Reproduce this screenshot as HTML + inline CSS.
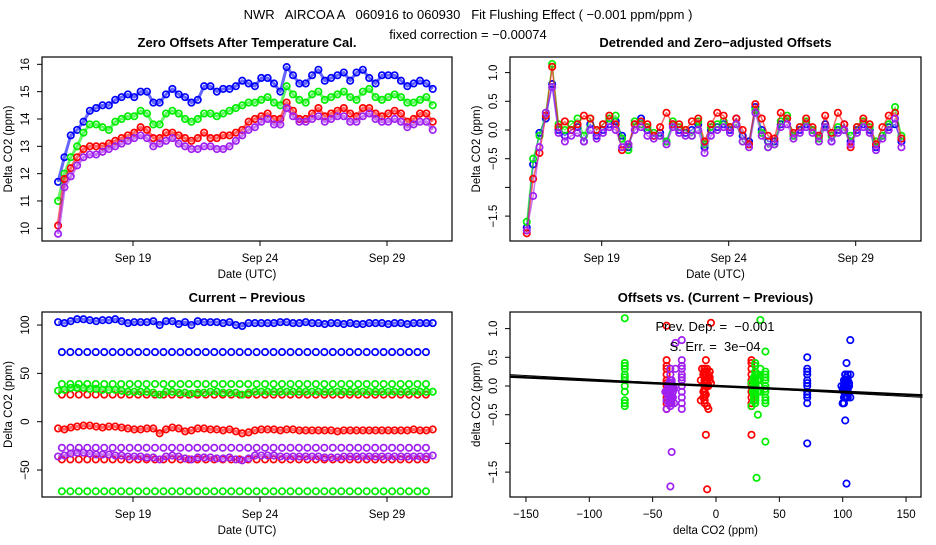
<!DOCTYPE html>
<html><head><meta charset="utf-8"><style>
body{margin:0;background:#fff}
svg text{font-family:"Liberation Sans",Arial,sans-serif;fill:#000;white-space:pre}
.t{font-size:13px}
.b{font-size:13px;font-weight:bold}
.s{font-size:11.5px}
</style></head><body>
<svg id="c" width="936" height="540" viewBox="0 0 936 540" xmlns="http://www.w3.org/2000/svg">
<rect width="936" height="540" fill="#fff"/>
<text class="t" x="468" y="19" text-anchor="middle" xml:space="preserve">NWR   AIRCOA A   060916 to 060930   Fit Flushing Effect ( −0.001 ppm/ppm )</text>
<text class="t" x="468" y="39" text-anchor="middle">fixed correction = −0.00074</text>
</svg>
<script>
// ---- data ----
const seriesNames = ["blue","green","red","purple"];
const seriesColors = ["#0000ff","#00ee00","#ff0000","#a020f0"];
const tStart = 16.05, tStep = 0.25;
const zeroBlue = [11.7,12.6,13.4,13.6,13.9,14.3,14.4,14.5,14.5,14.7,14.8,14.9,
14.8,15.0,15.0,14.6,14.6,14.9,15.1,14.9,14.8,14.6,14.7,15.2,15.2,15.0,15.1,15.1,15.2,15.4,15.3,15.2,
15.5,15.5,15.3,15.0,15.9,15.6,15.3,15.3,15.6,15.8,15.4,15.5,15.6,15.7,15.4,15.7,15.8,15.5,15.3,15.6,
15.6,15.6,15.4,15.2,15.3,15.4,15.3,15.1];
const zeroGreen = [11.0,12.0,12.6,13.0,13.5,13.8,13.8,13.7,13.6,13.9,14.0,14.1,
14.1,14.3,14.2,13.8,13.8,14.2,14.3,14.2,14.0,13.9,14.0,14.2,14.2,14.1,14.2,14.3,14.4,14.5,14.6,14.6,
14.7,14.8,14.6,14.5,15.2,14.9,14.7,14.6,14.9,15.0,14.7,14.8,14.9,15.0,14.8,14.7,15.0,15.1,14.8,14.7,
14.8,14.9,14.8,14.6,14.6,14.7,14.8,14.5];
const zeroRed = [10.1,11.8,12.2,12.6,12.9,13.0,13.0,13.0,13.1,13.2,13.3,13.4,
13.5,13.7,13.6,13.3,13.3,13.5,13.5,13.4,13.3,13.2,13.3,13.5,13.3,13.3,13.4,13.4,13.5,13.6,13.9,14.0,
14.1,14.2,14.0,14.0,14.6,14.3,14.0,14.0,14.2,14.4,14.1,14.2,14.3,14.4,14.2,14.1,14.4,14.4,14.2,14.1,
14.2,14.3,14.2,13.9,14.0,14.2,14.2,13.9];
const zeroPurple = [9.8,11.5,11.9,12.3,12.6,12.7,12.7,12.8,12.9,13.0,13.1,13.2,
13.3,13.4,13.3,13.0,13.1,13.2,13.3,13.1,13.0,12.9,12.9,13.0,13.0,12.9,12.9,13.0,13.2,13.4,13.6,13.7,
13.9,14.0,13.8,13.8,14.4,14.1,13.9,13.9,14.0,14.1,13.9,14.0,14.1,14.1,13.9,13.9,14.1,14.2,14.0,13.9,
13.9,14.0,13.9,13.7,13.8,13.9,13.9,13.6];
const detBlue = [-1.7,-0.6,-0.05,0.2,0.8,0.0,-0.1,0.0,0.05,-0.2,0.1,-0.1,
0.0,0.1,0.15,-0.1,-0.3,0.1,0.2,0.0,-0.1,-0.05,-0.2,0.1,0.0,-0.05,0.0,0.1,-0.3,0.0,0.05,0.1,
0.0,0.2,-0.1,-0.2,0.4,0.0,-0.2,-0.2,0.1,0.2,-0.1,0.0,0.1,0.0,-0.1,0.1,-0.2,0.0,0.1,-0.2,
0.0,0.1,0.0,-0.3,-0.1,0.05,0.1,-0.2];
const detGreen = [-1.6,-0.5,-0.1,0.3,1.15,0.1,0.0,0.1,0.2,-0.1,0.2,0.0,
0.1,0.2,0.25,-0.15,-0.35,0.15,0.1,0.05,-0.05,-0.1,-0.2,0.15,0.05,0.0,-0.1,0.15,-0.25,0.05,0.1,0.15,
0.05,0.1,-0.2,-0.25,0.35,-0.05,-0.3,-0.25,0.15,0.25,-0.1,0.05,0.15,0.0,-0.15,0.05,-0.1,0.05,0.0,-0.1,
0.05,0.15,0.05,-0.2,-0.1,0.1,0.4,-0.1];
const detRed = [-1.8,-0.85,-0.4,0.25,1.1,0.05,0.15,0.0,0.1,0.25,0.2,0.0,
0.1,0.25,0.1,-0.35,-0.25,0.1,0.15,0.1,-0.1,0.05,0.3,0.1,0.1,0.0,0.15,0.2,-0.2,0.1,0.3,0.25,
0.05,0.2,0.0,-0.25,0.45,0.2,-0.1,-0.15,0.3,0.2,-0.05,0.05,0.2,0.05,-0.1,0.25,-0.05,0.3,0.1,-0.3,
0.05,0.2,0.1,-0.25,0.05,0.25,0.3,-0.15];
const detPurple = [-1.75,-1.15,-0.3,0.3,0.75,-0.05,-0.2,-0.1,-0.05,-0.2,0.0,-0.15,
-0.05,0.05,0.0,-0.3,-0.25,0.0,0.05,-0.1,-0.15,-0.1,-0.25,0.05,-0.05,-0.1,-0.1,0.0,-0.4,-0.1,0.0,0.05,
-0.05,0.1,-0.2,-0.3,0.3,-0.1,-0.3,-0.25,0.05,0.1,-0.15,-0.05,0.05,-0.05,-0.2,0.05,-0.2,-0.05,0.0,-0.25,
-0.05,0.05,-0.05,-0.35,-0.15,0.0,0.2,-0.3];
const cpBlue = [103,102,104,106,106,105,104,105,105,106,104,102,
103,103,103,104,100,104,104,101,103,100,104,103,103,103,102,103,100,99,102,102,
102,102,102,103,103,102,102,103,102,102,101,102,102,101,102,101,101,102,102,102,
101,102,102,101,102,102,102,102];
const cpGreen = [32,33,35,35,35,34,34,33,33,33,32,31,
31,31,31,30,28,31,31,30,30,29,30,30,31,31,30,30,30,28,30,31,
31,31,31,31,31,31,31,31,31,31,31,31,31,31,31,31,31,31,31,31,
31,31,31,31,31,31,31,31];
const cpRed = [-7,-8,-6,-5,-4,-4,-5,-6,-5,-5,-6,-7,
-8,-8,-7,-7,-12,-8,-6,-7,-10,-9,-7,-7,-8,-8,-9,-8,-10,-12,-11,-9,
-8,-8,-8,-9,-8,-8,-9,-9,-9,-9,-9,-9,-10,-9,-9,-9,-9,-9,-9,-9,
-9,-9,-9,-9,-8,-9,-9,-8];
const cpPurple = [-36,-35,-33,-32,-32,-33,-34,-34,-34,-35,-35,-36,
-36,-36,-37,-37,-39,-36,-35,-36,-38,-39,-37,-37,-37,-38,-38,-37,-39,-40,-38,-35,
-35,-35,-35,-36,-36,-36,-36,-36,-36,-36,-37,-37,-37,-36,-36,-36,-36,-36,-36,-36,
-36,-36,-36,-36,-36,-36,-36,-35];
const sparseLevels = [72,39,28,-27,-39,-72];
const sparseColorIdx = [0,1,2,3,2,1];
const sparseOffsets = [
 [0.5,0.3,0.2,0.1,0.0,-0.1,-0.2,-0.3,-1.0,0.25,-0.15,0.05],
 [0.6,0.25,0.1,0.0,-0.1,-0.2,-0.3,-0.97,0.2,-0.25,0.15,-0.05],
 [0.45,0.3,0.1,0.0,-0.1,-0.2,-0.35,-0.85,0.2,-0.3,0.05,0.4],
 [0.8,0.45,0.3,0.1,0.0,-0.2,-0.4,0.2,-0.1,0.35,-0.3,0.15],
 [1.05,0.45,0.3,0.1,-0.1,-0.2,-0.4,0.2,0.0,-0.3,0.35,0.05],
 [1.18,0.4,0.3,0.1,0.0,-0.1,-0.25,-0.35,0.2,-0.3,0.15,0.35]];
const fitSlope = -0.001, fitIntercept = 0.0;
const dateTicks = [19,24,29], dateLabels = ["Sep 19","Sep 24","Sep 29"];

// ---- helpers ----
const NS="http://www.w3.org/2000/svg", svg=document.getElementById('c');
function mk(tag, attrs, parent){const e=document.createElementNS(NS,tag);for(const k in attrs)e.setAttribute(k,attrs[k]);(parent||svg).appendChild(e);return e;}
function txt(s,x,y,cls,anchor,rot){const e=mk('text',{x:x,y:y,'class':cls,'text-anchor':anchor||'middle'});if(rot)e.setAttribute('transform','rotate(-90 '+x+' '+y+')');e.textContent=s;return e;}
function panel(p){
  const f=mk('rect',{x:p.x0,y:p.y0,width:p.x1-p.x0,height:p.y1-p.y0,fill:'none',stroke:'#000','stroke-width':1.2});
  
  
  const t=txt(p.title,(p.x0+p.x1)/2,47+(p.y0-57),'b');
  
  
  const xl=txt(p.xlab,(p.x0+p.x1)/2,p.y1+37,'s');
  
  
  const yl=txt(p.ylab,p.x0-30,(p.y0+p.y1)/2,'s','middle',true);
  
  
  p.yt.forEach((v,i)=>{const y=p.sy(v);const l=mk('line',{x1:p.x0,x2:p.x0-5,y1:y,y2:y,stroke:'#000'});
    
    
    if(p.ytl[i]!==''){const e=txt(p.ytl[i],p.x0-13,y,'s','middle',true);
    
    }});
  p.xt.forEach((v,i)=>{const x=p.sx(v);const l=mk('line',{x1:x,x2:x,y1:p.y1,y2:p.y1+5,stroke:'#000'});
    
    
    const e=txt(p.xtl[i],x,p.y1+21,'s');
    
    });
}
function band(pts,color,w){const e=mk('polyline',{points:pts.map(p=>p.join(',')).join(' '),fill:'none',stroke:color,'stroke-width':w,'stroke-linejoin':'round','stroke-opacity':0.6});
  
  }
function pt(x,y,color,name){const e=mk('circle',{cx:x,cy:y,r:3.2,fill:'none',stroke:color,'stroke-width':1.7});
  
  }
function tOf(i){return tStart+i*tStep;}

// ---- panel 1 ----
const P1={id:'zero-offsets',x0:42,x1:452,y0:57,y1:241,title:'Zero Offsets After Temperature Cal.',xlab:'Date (UTC)',ylab:'Delta CO2 (ppm)',
 sx:t=>133+(t-19)*25.4, sy:v=>228.3-(v-10)*27.33, yt:[10,11,12,13,14,15,16], ytl:['10','11','12','13','14','15','16'], xt:dateTicks, xtl:dateLabels};
panel(P1);
[zeroBlue,zeroGreen,zeroRed,zeroPurple].forEach((arr,k)=>{
  band(arr.map((v,i)=>[P1.sx(tOf(i)),P1.sy(v)]),seriesColors[k],3);
  arr.forEach((v,i)=>pt(P1.sx(tOf(i)),P1.sy(v),seriesColors[k],'zero-offset-point-'+seriesNames[k]));});

// ---- panel 2 ----
const P2={id:'detrended',x0:510,x1:921,y0:57,y1:241,title:'Detrended and Zero−adjusted Offsets',xlab:'Date (UTC)',ylab:'Delta CO2 (ppm)',
 sx:t=>601.7+(t-19)*25.4, sy:v=>130-v*57.4, yt:[1,0.5,0,-0.5,-1,-1.5], ytl:['1.0','0.5','0.0','−0.5','','−1.5'], xt:dateTicks, xtl:dateLabels};
panel(P2);
[detBlue,detGreen,detRed,detPurple].forEach((arr,k)=>{
  band(arr.map((v,i)=>[P2.sx(tOf(i)),P2.sy(v)]),seriesColors[k],1.5);
  arr.forEach((v,i)=>pt(P2.sx(tOf(i)),P2.sy(v),seriesColors[k],'detrended-point-'+seriesNames[k]));});

// ---- panel 3 ----
const P3={id:'current-previous',x0:42,x1:452,y0:312,y1:497,title:'Current − Previous',xlab:'Date (UTC)',ylab:'Delta CO2 (ppm)',
 sx:t=>133+(t-19)*25.4, sy:v=>421.7-v*0.9667, yt:[100,50,0,-50], ytl:['100','50','0','−50'], xt:dateTicks, xtl:dateLabels};
panel(P3);
sparseLevels.forEach((lv,k)=>{for(let t=16.2;t<=30.75;t+=1/3)pt(P3.sx(t),P3.sy(lv),seriesColors[sparseColorIdx[k]],'current-previous-sparse-point');});
[cpBlue,cpGreen,cpRed,cpPurple].forEach((arr,k)=>{
  band(arr.map((v,i)=>[P3.sx(tOf(i)),P3.sy(v)]),seriesColors[k],3);
  arr.forEach((v,i)=>pt(P3.sx(tOf(i)),P3.sy(v),seriesColors[k],'current-previous-point-'+seriesNames[k]));});

// ---- panel 4 ----
const P4={id:'offsets-vs-diff',x0:510,x1:921,y0:312,y1:497,title:'Offsets vs. (Current − Previous)',xlab:'delta CO2 (ppm)',ylab:'delta CO2 (ppm)',
 sx:v=>716+v*1.267, sy:v=>386-v*57.4, yt:[1,0.5,0,-0.5,-1,-1.5], ytl:['1.0','0.5','0.0','−0.5','','−1.5'], xt:[-150,-100,-50,0,50,100,150], xtl:['−150','−100','−50','0','50','100','150']};
panel(P4);
sparseLevels.forEach((lv,k)=>{sparseOffsets[k].forEach(o=>pt(P4.sx(lv),P4.sy(o),seriesColors[sparseColorIdx[k]],'scatter-sparse-point'));});
[[cpBlue,detBlue],[cpGreen,detGreen],[cpRed,detRed],[cpPurple,detPurple]].forEach((pair,k)=>{
  pair[0].forEach((xv,i)=>pt(P4.sx(xv),P4.sy(pair[1][i]),seriesColors[k],'scatter-point-'+seriesNames[k]));});
const fx0=-163,fx1=163;
const fl=mk('line',{x1:P4.sx(fx0),y1:P4.sy(fitIntercept+fitSlope*fx0),x2:P4.sx(fx1),y2:P4.sy(fitIntercept+fitSlope*fx1),stroke:'#000','stroke-width':2.5});


const fl2=mk('line',{x1:P4.sx(fx0),y1:P4.sy(fitIntercept+fitSlope*fx0)-2,x2:P4.sx(fx1),y2:P4.sy(fitIntercept+fitSlope*fx1)+2,stroke:'#000','stroke-width':1});


const a1=txt('Prev. Dep. =  −0.001',715,331,'t');


const a2=txt('S. Err. =  3e−04',715,351,'t');


</script>
</body></html>
